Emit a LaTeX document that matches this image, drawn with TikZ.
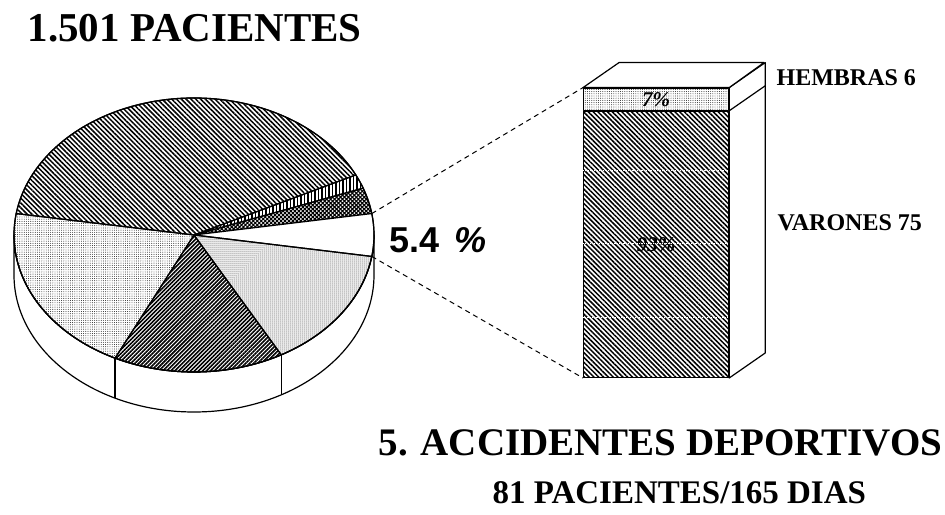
\documentclass[tikz,border=0pt]{standalone}
\usepackage{fontspec}
\setmainfont{Liberation Serif}
\newfontfamily\pctfont{Liberation Sans}
\usetikzlibrary{calc}
\usetikzlibrary{patterns}
\usetikzlibrary{patterns.meta}

\newcommand{\pieslice}[3]{%
  \filldraw[#3] (pc) -- ++(#1:180pt and 137pt)
    arc[start angle=#1, end angle=#2, x radius=180pt, y radius=137pt] -- cycle;}

\begin{document}
\begin{tikzpicture}[x=1pt, y=1pt, line width=1.2pt, line join=round,
                    every node/.style={inner sep=0pt},
                    bigtitle/.style={font=\fontsize{41}{41}\selectfont\bfseries},
                    subtitle/.style={font=\fontsize{33}{33}\selectfont\bfseries},
                    sexlabel/.style={font=\fontsize{24}{24}\selectfont\bfseries},
                    barpct/.style={font=\fontsize{21}{21}\selectfont\bfseries\itshape},
                    barface/.style={draw, minimum width=145pt, anchor=south west},
                    wide hatch/.style={pattern={Lines[angle=-45,distance=3.4pt,line width=1.5pt]}},
                    dark hatch/.style={pattern={Lines[angle=45,distance=2.8pt,line width=1.6pt]}},
                    vert hatch/.style={pattern={Lines[angle=90,distance=3.5pt,line width=1.2pt]}},
                    cross hatch/.style={pattern={Hatch[angle=45,distance=2.8pt,line width=1.1pt]}},
                    light dots/.style={pattern={Dots[distance=2.2pt,radius=0.45pt]}},
                    dense dots/.style={pattern={Dots[distance=2pt,radius=0.5pt]}},
                    zoomline/.style={dash pattern=on 5pt off 4pt, line width=1pt}]
\fill[white] (0,0) rectangle (945,514);
\useasboundingbox (0,0) rectangle (945,514);

% pie
\coordinate (pc) at (194,279);
\filldraw[fill=white] (pc) ++(180:180pt and 137pt)
  arc[start angle=180, end angle=360, x radius=180pt, y radius=137pt] -- ++(0,-40)
  arc[start angle=360, end angle=180, x radius=180pt, y radius=137pt] -- cycle;
\foreach \a in {-116,-61}
  \draw (pc) ++(\a:180pt and 137pt) -- ++(0,-40);

\pieslice{26}{171}{wide hatch}
\pieslice{20}{26}{vert hatch}
\pieslice{9}{20}{cross hatch}
\pieslice{-9}{9}{fill=white}
\pieslice{-61}{-9}{dense dots}
\pieslice{-116}{-61}{dark hatch}
\pieslice{171}{244}{light dots}
\draw (pc) ellipse[x radius=180pt, y radius=137pt];

\coordinate (w1) at ($(pc)+(9:180pt and 137pt)$);
\coordinate (w2) at ($(pc)+(-9:180pt and 137pt)$);

% bar
\node[barface, wide hatch, minimum height=266pt, barpct] (varones) at (583,136) {93\%};
\node[barface, light dots, minimum height=22pt, barpct] (hembras) at (varones.north west) {7\%};
\filldraw[fill=white] (varones.south east) -- ++(36,25) -- ($(hembras.north east)+(36,25)$)
  -- (hembras.north east) -- cycle;
\filldraw[fill=white] (hembras.north west) -- ++(36,25) -- ++(145,0) -- (hembras.north east) -- cycle;
\draw (hembras.south east) -- ++(36,25);
\foreach \y in {197,271,344}
  \draw[white, densely dotted, line width=0.8pt] (583,\y) -- (728,\y);

\draw[zoomline] (w1) -- (hembras.north west);
\draw[zoomline] (w2) -- (varones.south west);

% labels
\node[bigtitle, anchor=base west] (total) at (27,472) {1.501 PACIENTES};
\node[font=\fontsize{36}{36}\selectfont\pctfont\bfseries, anchor=base west] (share) at (389,261)
  {5.4\hspace{0.4em}\textit{\%}};
\node[sexlabel, anchor=base west] (hembraslbl) at (776,428) {HEMBRAS 6};
\node[sexlabel, anchor=base west] (varoneslbl) at (777,283) {VARONES 75};
\node[font=\fontsize{39}{39}\selectfont\bfseries, anchor=base west] (cause) at (378,58)
  {5. ACCIDENTES DEPORTIVOS};
\node[subtitle, anchor=base west] (days) at (492,10) {81 PACIENTES/165 DIAS};
\end{tikzpicture}
\end{document}
